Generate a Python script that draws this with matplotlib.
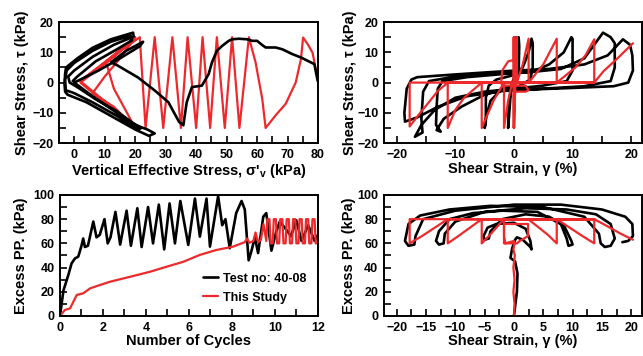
import matplotlib
matplotlib.use('Agg')
import matplotlib.pyplot as plt
from matplotlib.ticker import MultipleLocator

plt.rcParams['font.family'] = ['Liberation Sans', 'DejaVu Sans']
plt.rcParams['font.weight'] = 'bold'
plt.rcParams['axes.labelweight'] = 'bold'
plt.rcParams['mathtext.fontset'] = 'custom'
plt.rcParams['mathtext.bf'] = 'Liberation Sans:bold'
plt.rcParams['mathtext.rm'] = 'Liberation Sans:bold'

BLACK = '#000000'
RED = '#ec2a2c'

# ---- stress path (sigma'v, tau) ----
test_sv = [79.9, 78.8, 74.4, 71.6, 68.3, 66.1, 62.8, 61.7, 60, 58.4, 56.8, 54, 51.8, 50.7, 48.5, 46.8,
           45.2, 44.1, 41.9, 38.6, 36.9, 35.8, 34.4, 30.9, 26.4, 20.9, 14.3, 12.1, 17, 22.6, 21.5, 15,
           8, 2, 0, 6, 14, 20, 24, 26.4, 24.5, 20, 12, 4, -2.2, -3, -3.2, -3, -2.7, 1, 6, 12, 19.3,
           19.5, 13, 6, 0, -2, -1.5, 1, 7, 14, 19, 22, 21, 14, 6, 0, -2.8, -3, -2.5, 0, 6, 12, 18.5,
           19, 14, 7, 1, -0.5]
test_tau = [0.5, 6.1, 8.3, 9.4, 11, 11.6, 11.6, 12.4, 13.8, 13.8, 14.3, 14.5, 14.3, 13.8, 12.1, 10.5,
            6.7, 2.8, -1, -1.5, -6.5, -14.1, -13, -6.5, -2.6, 1.7, 5.6, 6.7, 10.5, 13.5, 12, 8,
            4, 1, 0, -4.5, -10, -14, -15.5, -16.8, -17.6, -15.5, -11, -6.5, -4, -3, -0.5, 3, 5, 8, 11.5, 14.3, 16.5,
            15.2, 12.5, 8.5, 4, 2, 0, -1.5, -5.5, -9.5, -13.2, -15, -15.5, -11, -6.5, -3.5, -2.5, 1, 4, 6.5, 10.5, 13.5, 15.5,
            14, 11, 7, 2, 0.5]

model_sv = [80, 78.2, 76.6, 75.1, 74.4, 72.7, 69.4, 66.1, 62.8, 61.7, 59.5, 57.3, 54.2, 51.8, 49.4, 46.8,
            44.6, 42.1, 40, 37.2, 35, 32.2, 29.2, 26.4, 23.4, 21.5, 16, 10.5, 13, 16.5, 20, 13, 6, 10, 15,
            20, 14, 8, 2, 8, 14, 20, 14, 8, 2, 8, 14, 20, 14, 8, 2.5]
model_tau = [0.6, 9.9, 12.7, 14.9, 7.8, 0.1, -7, -10.8, -15, -5.4, 6.7, 15, -15, 15, -15, 15,
             -15, 15, -15, 15, -15, 15, -15, 15, -15, 15, 11, 6.5, -2, -8.5, -15, -8, -3.5, 2, 8,
             15, 10, 5, 0.5, -4.5, -9.5, -15, -10, -5, 0, 4.5, 9.5, 15, 9.8, 5.2, 1]

# ---- stress-strain (gamma %, tau) ----
test_g = [0, 0.2, 0.4, 0.5, 0.3, -0.5, -0.9, -1, -0.8, -0.5, 0.2, 0.6, 0.8, 0.9, 0.8, 0, -2, -4,
          -4.8, -5, -4.8, -4.8, -4.3, -3, 0, 1.5, 2.5, 3, 3.2, 3.2, 2.8, 1, -1, -5, -9, -12, -13.2,
          -12.5, -13.3, -13.2, -13, -12.2, -8, -2, 3, 6, 8.5, 9.8, 10, 10, 9, 5, 0, -5, -10, -13.5,
          -15.8, -16.9, -15.6, -15.8, -15.5, -14.5, -10, -3, 3, 8, 12, 15.2, 16.5, 17.2, 17.2, 16.5,
          12, 5, -2, -8, -13, -16.5, -18.6, -18.7, -18.3, -17.5, -16.5, -10, -1.3, 6, 12, 16, 18.6,
          19.8, 20.2, 20.3, 19.5, 17, 9.6, 0]
test_gt = [0, 8, 15, 10, 3, -1, -8, -15, -10, -2, 2, 8, 15, 12, 4, -1, -2, -6,
           -12, -15, -13, -5, -1, 1, 2.5, 5, 10, 14.5, 13, 5, 1, -1, -2, -4, -8, -12, -15.7,
           -16.2, -14, -8, -2, 0.5, 1.8, 2.8, 3.5, 6, 10, 15, 14.5, 4, 0.5, -1, -2, -3, -5, -9,
           -14, -17.9, -16.5, -12, -3, 0.5, 2, 3, 3.5, 4.5, 8, 16.5, 15, 13, 5, 0.5,
           -1.2, -2, -2.8, -4.5, -8, -11.5, -12.9, -10, -2, 1, 1.8, 2.7, 3.8, 4.5, 6, 9, 14.3,
           12.5, 9, 4, 0, -1.2, -1.8, -2.5]

model_g = [0, 0, 0, 0, 0, 0, 0, -1, -2, -2.2, -2, 0, 2, 2.5, 2, 0, 0, 0.5, 0.5, -0.3, -1, -1.7, -1.7,
           0.5, 1.5, 2.5, 2.5, -1.7, -3.5, -5.5, -5.5, 2.5, 5, 7.3, 7.3, -5.5, -8.5, -10, -11.3, -11.3,
           7.3, 10.5, 12.2, 13.7, 13.7, -11.3, -13, -14.4, -16, -17.8, -17.8, 13.7, 15.3, 17.5, 20.3]
model_gt = [0, 15, -15, 15, -15, 15, 7.5, 7, 4, 0, -1, -1, -1, -2.5, -3, -3, -15, 15, 0, 0, -6, -15, 0,
            0, 6, 14.5, 0, 0, -6, -15, 0, 0, 6, 14.5, 0, 0, -5, -9, -15, 0,
            0, 5, 9, 14.3, 0, 0, -2.8, -6.2, -10, -14.5, 0, 0, 3.8, 7.7, 13]

# ---- excess pore pressure vs cycles ----
test_n = [0, 0.16, 0.39, 0.54, 0.7, 0.85, 1.0, 1.08, 1.16, 1.3, 1.55, 1.7, 1.85, 2.07, 2.22, 2.35, 2.58,
          2.8, 3.1, 3.3, 3.6, 3.8, 4.1, 4.33, 4.6, 4.85, 5.1, 5.35, 5.6, 5.97, 6.28, 6.51, 6.82, 6.98,
          7.36, 7.55, 7.7, 7.9, 8.2, 8.45, 8.6, 8.78, 8.9, 9.07, 9.22, 9.46, 9.6, 9.84, 10.07, 10.23,
          10.5, 10.75, 11.0, 11.24, 11.55, 11.85, 12]
test_u = [0, 21, 34, 43.5, 47.6, 49, 58, 64, 57, 58, 78, 65, 67, 80, 60, 65, 86,
          59, 87, 58, 89, 57, 90, 60, 92, 55, 93, 60, 95, 58.7, 97, 65.6, 97, 57.3,
          99, 75, 80, 56, 85, 95, 88, 46, 53, 65, 52, 82, 85, 54, 70, 78,
          72, 66, 79, 62, 75, 62, 67]

model_n = [0, 0.23, 0.47, 0.78, 1.08, 1.4, 1.86, 2.33, 3.4, 4.2, 4.96, 5.74, 6.5, 7.27, 8.06, 8.6, 8.7,
           8.82, 9.0, 9.1, 9.22, 9.35, 9.47, 9.6, 9.65, 9.75, 9.8, 9.9, 9.95, 10.05, 10.1, 10.2, 10.25,
           10.35, 10.4, 10.5, 10.55, 10.65, 10.7, 10.8, 10.85, 10.95, 11.0, 11.1, 11.15, 11.25, 11.3,
           11.4, 11.45, 11.55, 11.6, 11.7, 11.75, 11.85, 11.9, 12.0, 12.05]
model_u = [0, 5, 6.3, 17.4, 18.7, 22.8, 25.6, 28.3, 33, 36.6, 40.7, 44.8, 50.4, 54.5, 57.3, 61, 64,
           60.5, 62, 69, 61, 63, 76, 62, 80, 80, 60, 60, 80, 80, 60, 60, 80,
           80, 60, 60, 80, 80, 60, 60, 80, 80, 60, 60, 80, 80, 60,
           60, 80, 80, 60, 60, 80, 80, 60, 60, 80]

# ---- excess pore pressure vs strain ----
test_pg = [0, 0.5, 0.6, 0.2, -0.6, -0.3, 0.2, 0.5, 1.5, 2.8, 3, 2.8, 2, 0, -3, -4.5, -5.2, -5, -4.3,
           -4, -2, 2, 6, 8.5, 9.8, 10, 9.3, 9, 8, 4, -2, -7, -11, -12.8, -13.3, -12.8, -12, -11.8, -10,
           -5, 2, 9, 14, 16.5, 17.2, 16.5, 15.5, 14.8, 14.5, 12, 5, -4, -11, -16, -18, -18.6, -18,
           -17, -16.8, -15.5, -10, 0, 8, 15, 19, 20.2, 20.3, 19.5, 18.5]
test_pu = [0, 20, 35, 45, 48, 56, 63, 65, 63, 57, 55, 62, 72, 77, 76, 73, 66, 63, 64,
           70, 80, 84, 82, 75, 62, 59, 58, 64, 76, 86, 87, 85, 80, 70, 62, 59, 60, 68, 78,
           86, 89, 88, 84, 76, 64, 58, 57, 60, 68, 82, 90, 91, 88, 83, 76, 62, 58,
           59, 66, 80, 87, 92, 92, 88, 82, 76, 66, 62, 61]

model_pg = [0, 0.1, -0.1, 0.1, -0.1, 0.15, -0.1, 0.1, 0, -1.5, -1.7, -1.7, 2.4, 2.4, 1, 0.5, -1.7,
            -1.7, 2.4, 4, 5.8, 7.3, 7.3, -1.7, -3, -4.3, -5.5, -5.5, 7.3, 9.5, 11.7, 13.7, 13.7,
            -5.5, -7.5, -9.5, -11.3, -11.3, 13.7, -11.3, -13.5, -15.7, -17.8, -17.8, 13.7, 16, 18.2, 20.3]
model_pu = [0, 10, 20, 30, 40, 50, 55, 60, 62, 60, 66, 76, 76, 66, 62, 60, 60,
            80, 80, 74, 67, 60, 80, 80, 73, 66, 60, 80, 80, 73, 66, 60, 80,
            80, 73, 66, 60, 80, 80, 80, 73, 66, 60, 80, 80, 74, 68, 63]

fig = plt.figure(figsize=(6.43, 3.56), dpi=100)
ax1 = fig.add_axes([0.0918, 0.598, 0.4028, 0.340])
ax2 = fig.add_axes([0.597, 0.598, 0.401, 0.340])
ax3 = fig.add_axes([0.0933, 0.1124, 0.401, 0.340])
ax4 = fig.add_axes([0.597, 0.1124, 0.401, 0.340])

lw_k = 1.9
lw_r = 1.6
kw = dict(solid_joinstyle='round', solid_capstyle='round')

ax1.plot(model_sv, model_tau, color=RED, lw=lw_r, **kw)
ax1.plot(test_sv, test_tau, color=BLACK, lw=lw_k, **kw)
ax1.set_xlim(-5, 80)
ax1.set_ylim(-20, 20)
ax1.xaxis.set_major_locator(MultipleLocator(10))
ax1.xaxis.set_minor_locator(MultipleLocator(5))
ax1.yaxis.set_major_locator(MultipleLocator(10))
ax1.yaxis.set_minor_locator(MultipleLocator(5))
ax1.set_xlabel("Vertical Effective Stress, σ'$_\\mathbf{v}$ (kPa)", labelpad=1)
ax1.set_ylabel('Shear Stress, τ (kPa)', labelpad=2)

ax2.plot(test_g, test_gt, color=BLACK, lw=lw_k, **kw)
ax2.plot(model_g, model_gt, color=RED, lw=lw_r, **kw)
ax2.set_xlim(-22.2, 21.8)
ax2.set_ylim(-20, 20)
ax2.xaxis.set_major_locator(MultipleLocator(10))
ax2.xaxis.set_minor_locator(MultipleLocator(5))
ax2.yaxis.set_major_locator(MultipleLocator(10))
ax2.yaxis.set_minor_locator(MultipleLocator(5))
ax2.set_xlabel('Shear Strain, γ (%)', labelpad=1)
ax2.set_ylabel('Shear Stress, τ (kPa)', labelpad=0)

ax3.plot(test_n, test_u, color=BLACK, lw=lw_k, label='Test no: 40-08', **kw)
ax3.plot(model_n, model_u, color=RED, lw=lw_r, label='This Study', **kw)
ax3.set_xlim(0, 12)
ax3.set_ylim(0, 100)
ax3.xaxis.set_major_locator(MultipleLocator(2))
ax3.xaxis.set_minor_locator(MultipleLocator(1))
ax3.yaxis.set_major_locator(MultipleLocator(20))
ax3.yaxis.set_minor_locator(MultipleLocator(10))
ax3.set_xlabel('Number of Cycles', labelpad=0)
ax3.set_ylabel('Excess PP. (kPa)', labelpad=4)
ax3.legend(loc='lower left', bbox_to_anchor=(0.52, 0.03), frameon=False, fontsize=9,
           handlelength=1.2, handletextpad=0.45, labelspacing=0.55, borderpad=0.2)

ax4.plot(test_pg, test_pu, color=BLACK, lw=lw_k, **kw)
ax4.plot(model_pg, model_pu, color=RED, lw=lw_r, **kw)
ax4.set_xlim(-22.2, 21.8)
ax4.set_ylim(0, 100)
ax4.xaxis.set_major_locator(MultipleLocator(5))
ax4.xaxis.set_minor_locator(MultipleLocator(2.5))
ax4.yaxis.set_major_locator(MultipleLocator(20))
ax4.yaxis.set_minor_locator(MultipleLocator(10))
ax4.set_xlabel('Shear Strain, γ (%)', labelpad=0)
ax4.set_ylabel('Excess PP. (kPa)', labelpad=1)

for ax in (ax1, ax2, ax3, ax4):
    for s in ax.spines.values():
        s.set_linewidth(1.4)
    ax.tick_params(which='both', direction='in', length=5, width=1.2, labelsize=9,
                   top=False, right=False, pad=4)
    ax.xaxis.label.set_size(10.5)
    ax.yaxis.label.set_size(10.5)

fig.savefig('out.png', dpi=100)
